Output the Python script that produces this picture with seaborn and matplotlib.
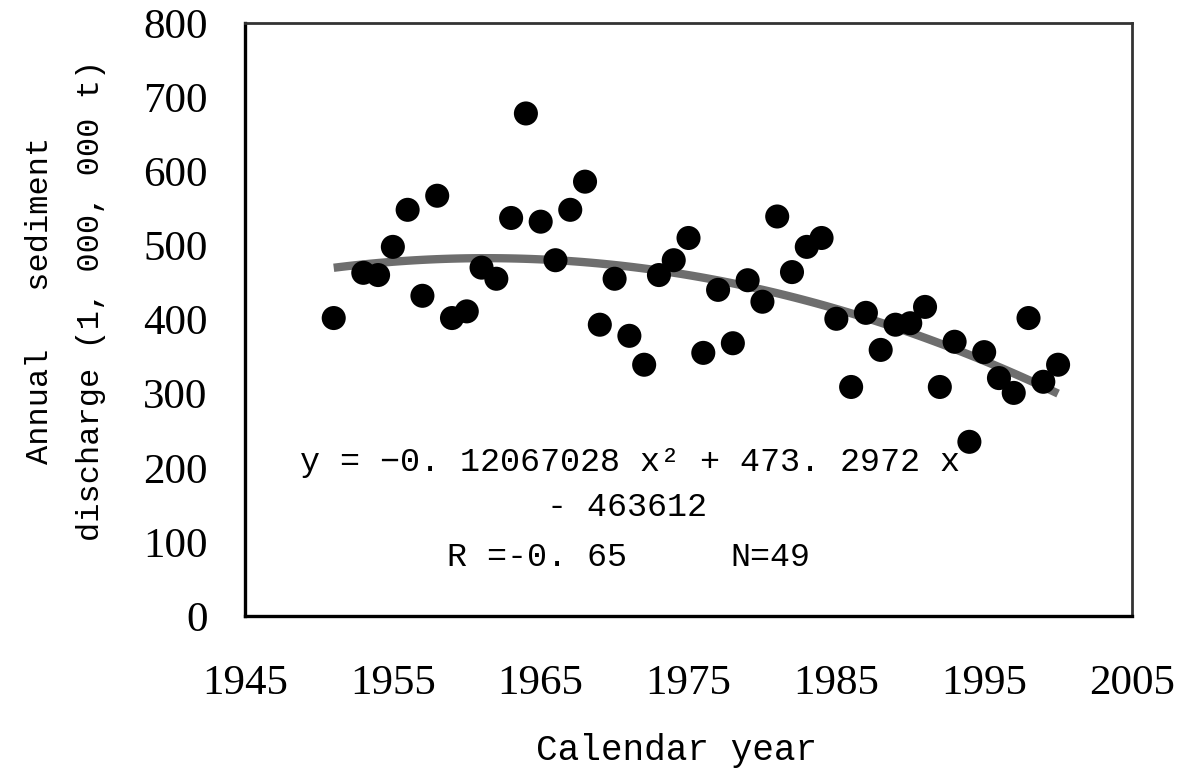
import matplotlib
matplotlib.use("Agg")
import matplotlib.pyplot as plt
import seaborn as sns
import numpy as np
import pandas as pd

years = [1951, 1953, 1954, 1955, 1956, 1957, 1958, 1959, 1960, 1961,
         1962, 1963, 1964, 1965, 1966, 1967, 1968, 1969, 1970, 1971,
         1972, 1973, 1974, 1975, 1976, 1977, 1978, 1979, 1980, 1981,
         1982, 1983, 1984, 1985, 1986, 1987, 1988, 1989, 1990, 1991,
         1992, 1993, 1994, 1995, 1996, 1997, 1998, 1999, 2000]
sediment = [402, 463, 460, 498, 548, 432, 567, 402, 411, 470,
            455, 537, 678, 532, 480, 548, 586, 393, 455, 378,
            339, 460, 480, 510, 355, 440, 368, 453, 424, 539,
            464, 498, 510, 401, 309, 409, 359, 393, 395, 417,
            309, 370, 235, 356, 321, 301, 402, 316, 339]

x_ticks = [1945, 1955, 1965, 1975, 1985, 1995, 2005]
y_ticks = [0, 100, 200, 300, 400, 500, 600, 700, 800]

df = pd.DataFrame({"year": years, "sediment": sediment})

sns.set_style("white")
plt.rcParams.update({"text.color": "black", "axes.labelcolor": "black",
                     "xtick.color": "black", "ytick.color": "black"})
mono = ["Liberation Mono", "DejaVu Sans Mono"]
serif = ["Liberation Serif", "DejaVu Serif"]

fig = plt.figure(figsize=(11.82, 7.73), dpi=100)
ax = fig.add_axes([0.2073, 0.2031, 0.7504, 0.7671])

sns.regplot(data=df, x="year", y="sediment", order=2, ci=None, scatter=False,
            ax=ax, line_kws=dict(color="#6e6e6e", lw=6, solid_capstyle="butt"))
sns.scatterplot(data=df, x="year", y="sediment", ax=ax, color="black",
                s=300, edgecolor="none", zorder=3)

ax.set_xlim(1945, 2005)
ax.set_ylim(0, 800)
ax.set_xticks(x_ticks)
ax.set_yticks(y_ticks)
ax.set_xticklabels([str(t) for t in x_ticks], family=serif, fontsize=31)
ax.set_yticklabels([str(t) for t in y_ticks], family=serif, fontsize=31)
ax.tick_params(axis="both", direction="in", length=7, width=1.8,
               color="black", labelcolor="black")
ax.tick_params(axis="x", pad=35)
ax.tick_params(axis="y", pad=27)

for side in ["left", "bottom"]:
    ax.spines[side].set_color("black")
    ax.spines[side].set_linewidth(2.4)
for side in ["top", "right"]:
    ax.spines[side].set_color("#333333")
    ax.spines[side].set_linewidth(2.0)

ax.set_xlabel("Calendar year", family=mono, fontsize=26, color="black")
ax.xaxis.set_label_coords((677 - 245) / 887, -0.198)
ax.set_ylabel("Annual   sediment\ndischarge (1, 000, 000 t)", family=mono,
              fontsize=23, linespacing=1.9, color="black")
ax.yaxis.set_label_coords((106 - 245) / 887, (616 - 300) / 593)

fs = 24
ax.text(300, 463, "y = \u22120. 12067028 x\u00b2 + 473. 2972 x", family=mono,
        fontsize=fs, ha="left", va="center", transform=None, color="black")
ax.text(547, 508, "- 463612", family=mono, fontsize=fs, ha="left", va="center",
        transform=None, color="black")
ax.text(447, 558, "R =-0. 65", family=mono, fontsize=fs, ha="left", va="center",
        transform=None, color="black")
ax.text(730, 558, "N=49", family=mono, fontsize=fs, ha="left", va="center",
        transform=None, color="black")

for t in ax.texts:
    x, y = t.get_position()
    t.set_transform(fig.transFigure)
    t.set_position((x / 1182, 1 - y / 773))

fig.savefig("out.png", dpi=100)
